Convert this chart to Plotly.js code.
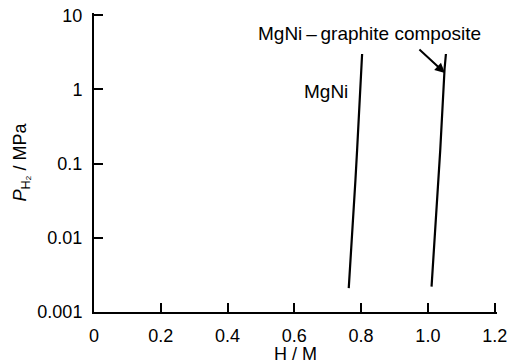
<!DOCTYPE html>
<html><head><meta charset="utf-8">
<script src="https://cdn.plot.ly/plotly-3.0.1.min.js"></script>
<style>html,body{margin:0;padding:0;background:#fff}#c{width:511px;height:364px}</style>
</head><body><div id="c"></div>
<script>
const mgniHM = [0.763, 0.773, 0.783, 0.788, 0.796, 0.803];
const mgniP  = [0.0021, 0.01, 0.06, 0.152, 0.72, 3.0];
const compHM = [1.011, 1.021, 1.032, 1.037, 1.050, 1.054];
const compP  = [0.0022, 0.01, 0.06, 0.152, 1.9, 3.0];
const xTickVals = [0, 0.2, 0.4, 0.6, 0.8, 1.0, 1.2];
const xTickText = ["0", "0.2", "0.4", "0.6", "0.8", "1.0", "1.2"];
const yTickVals = [0.001, 0.01, 0.1, 1, 10];
const yTickText = ["0.001", "0.01", "0.1", "1", "10"];

const font = {family: "Liberation Sans, Arial, sans-serif", size: 18, color: "#000"};
const annFont = {family: "Liberation Sans, Arial, sans-serif", size: 19, color: "#000"};
const traces = [
  {x: mgniHM, y: mgniP, mode: "lines", line: {color: "#000", width: 2.2}, showlegend: false, hoverinfo: "skip"},
  {x: compHM, y: compP, mode: "lines", line: {color: "#000", width: 2.2}, showlegend: false, hoverinfo: "skip"}
];
const layout = {
  width: 511, height: 364,
  margin: {l: 94, r: 14, t: 13, b: 52},
  paper_bgcolor: "#fff", plot_bgcolor: "#fff",
  font: font,
  xaxis: {
    range: [0, 1.207], showgrid: false, zeroline: false,
    showline: true, linecolor: "#000", linewidth: 2,
    ticks: "inside", ticklen: 9, tickwidth: 2, tickcolor: "#000",
    tickvals: xTickVals, ticktext: xTickText, ticklabelstandoff: 6,
    automargin: false,
    title: {text: "H / M", font: font, standoff: 10}
  },
  yaxis: {
    type: "log", range: [-3, 1.03], showgrid: false, zeroline: false,
    showline: true, linecolor: "#000", linewidth: 2,
    ticks: "inside", ticklen: 9, tickwidth: 2, tickcolor: "#000",
    tickvals: yTickVals, ticktext: yTickText, ticklabelstandoff: 6,
    automargin: false,
    title: {text: "<i>P</i><sub>H\u2082</sub> / MPa", font: font, standoff: 6}
  },
  annotations: [
    {x: 0.826, y: Math.log10(5.6), xref: "x", yref: "y", text: "MgNi\u2009\u2013\u2009graphite composite", showarrow: false, font: annFont},
    {x: 0.695, y: Math.log10(0.95), xref: "x", yref: "y", text: "MgNi", showarrow: false, font: annFont},
    {x: 1.051, y: Math.log10(1.66), xref: "x", yref: "y", text: "", showarrow: true, arrowhead: 2, arrowsize: 1, arrowwidth: 2, arrowcolor: "#000", ax: -27, ay: -25, standoff: 0}
  ]
};
Plotly.newPlot("c", traces, layout, {staticPlot: true});
</script>
</body></html>
